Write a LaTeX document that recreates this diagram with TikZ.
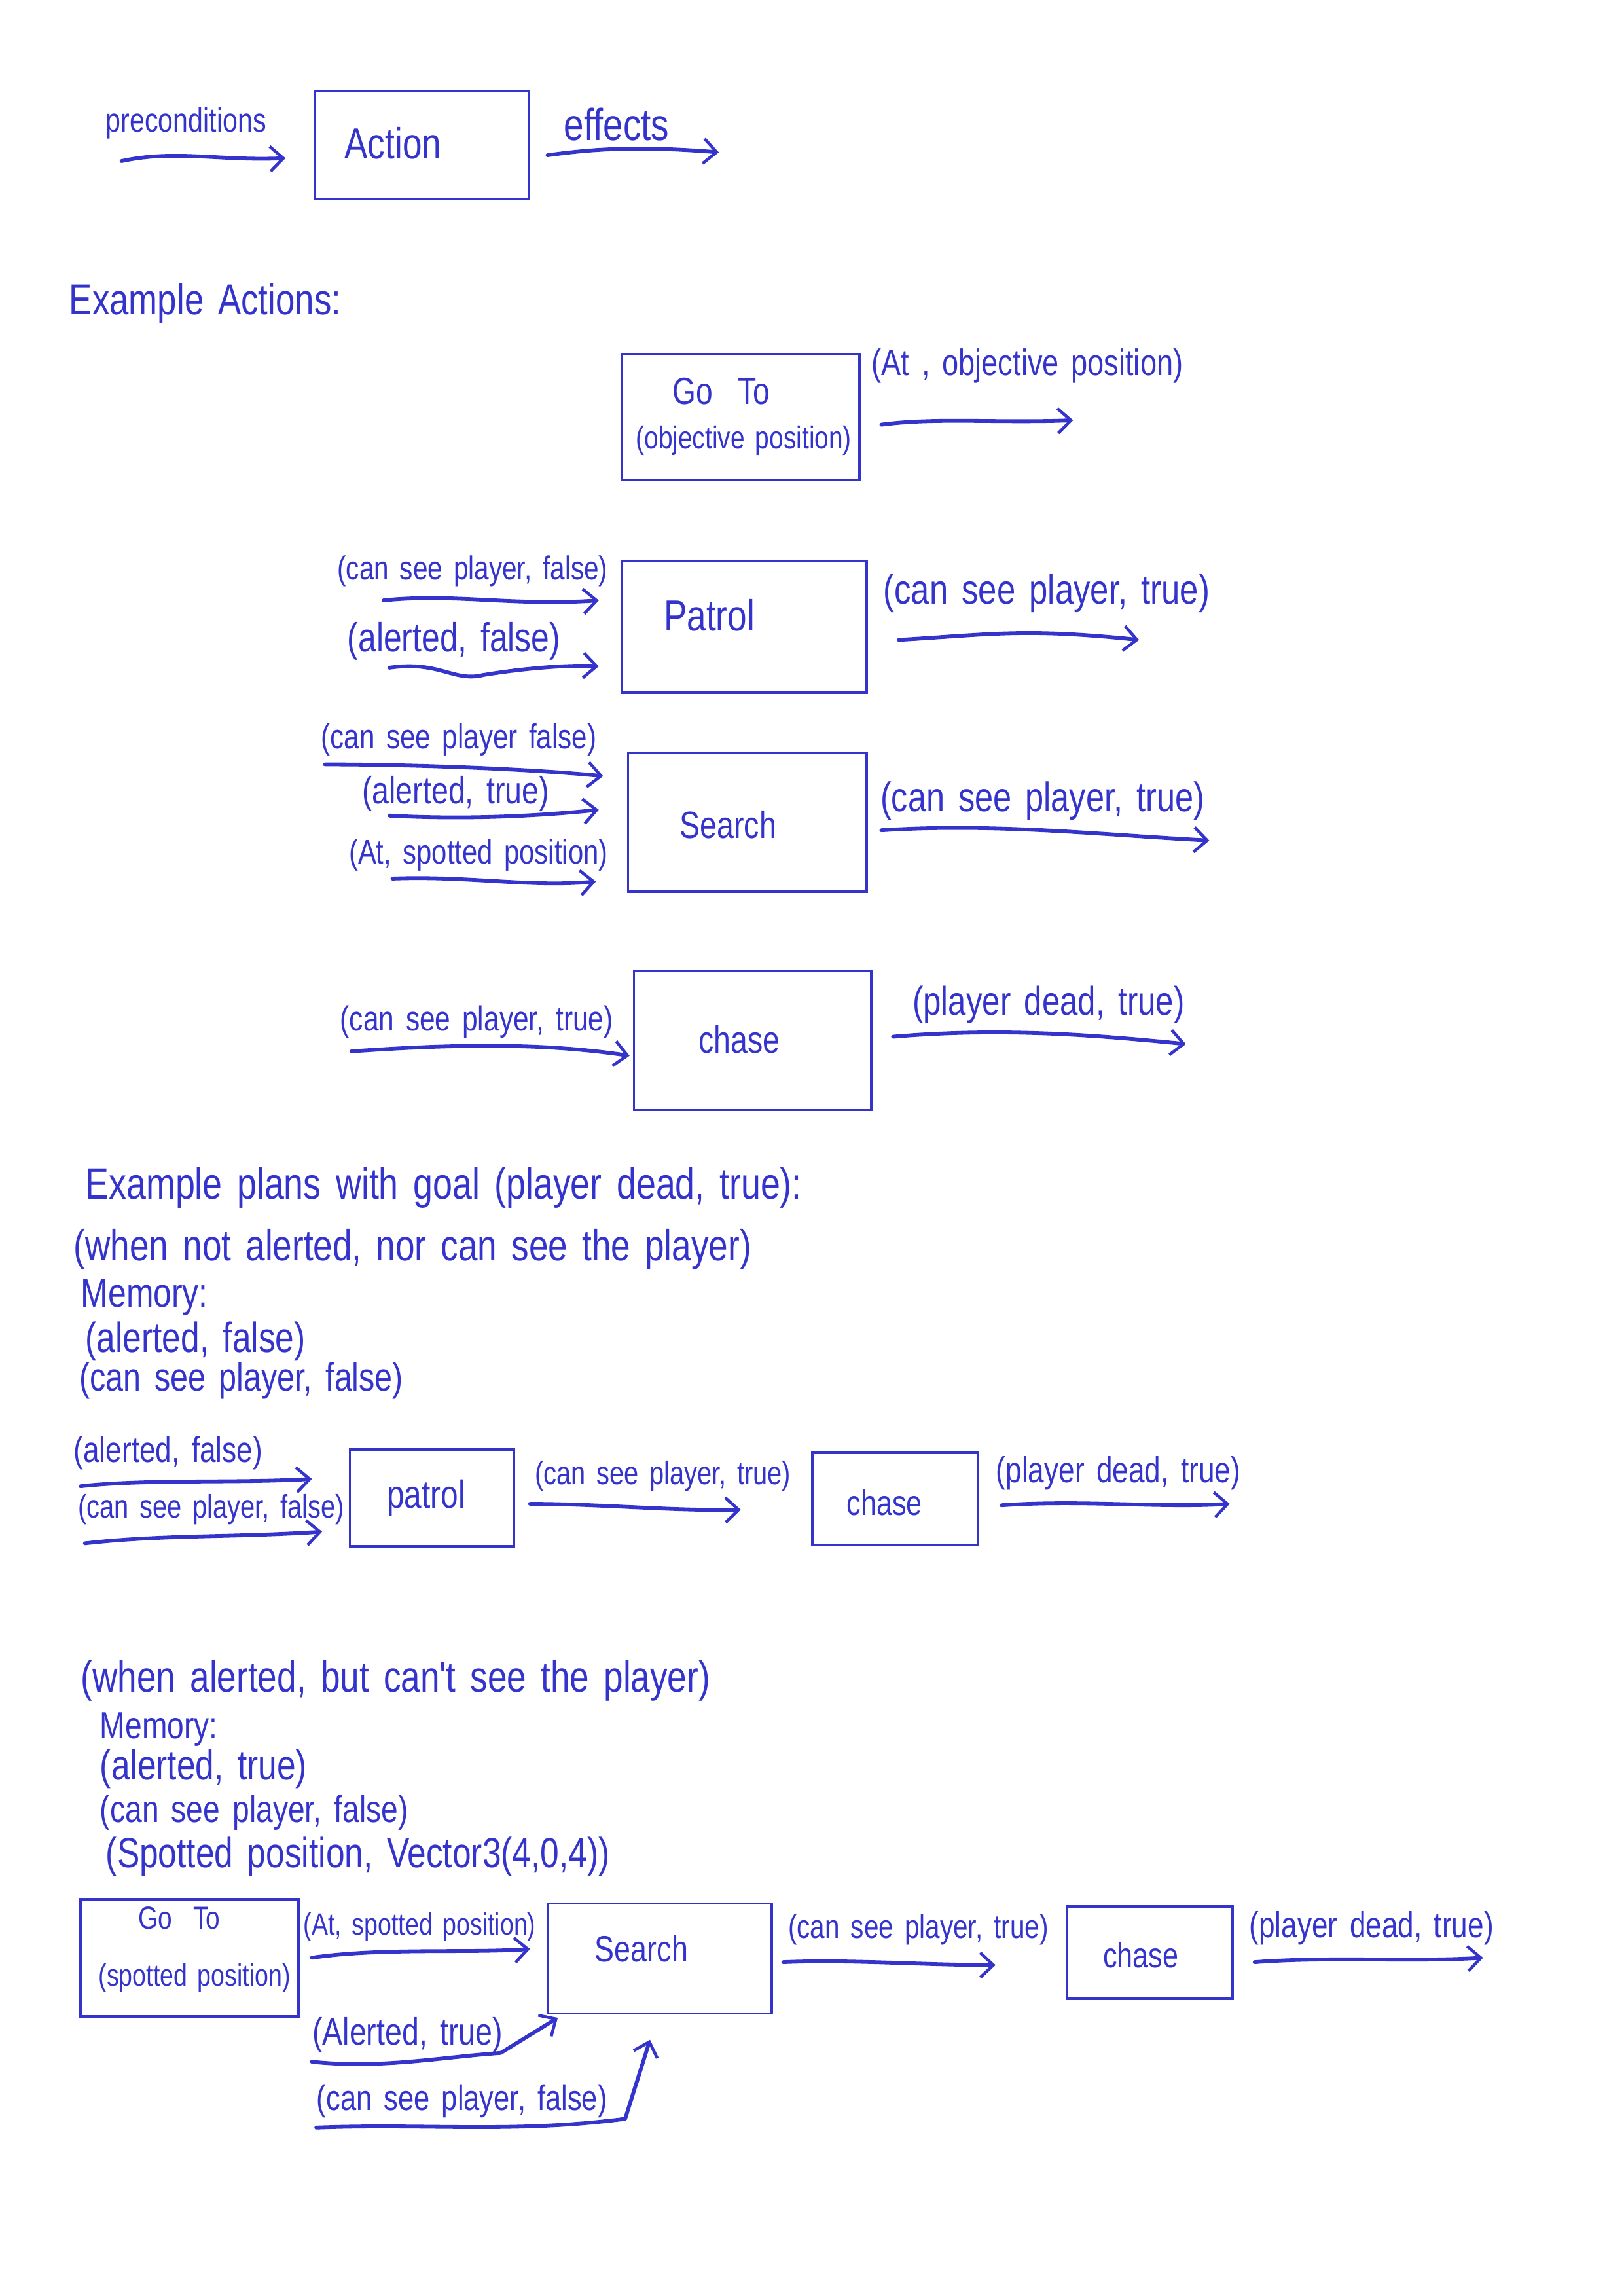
\documentclass[tikz,border=0pt]{standalone}
\usepackage{fontspec}
\newfontfamily\hand[FakeStretch=0.8,WordSpace=1.5]{Liberation Sans}
\usetikzlibrary{arrows.meta,fit}
\definecolor{ink}{RGB}{52,52,204}
\newcommand\fsz[1]{\fontsize{#1}{#1}\selectfont}
\begin{document}
\begin{tikzpicture}[x=0.18936mm,y=-0.18936mm,
 box/.style={draw=ink, line width=0.9pt, inner sep=0pt},
 lbl/.style={text=ink, inner sep=0pt, anchor=west, font=\hand},
 flow/.style={draw=ink, line width=1.4pt, line cap=round, line join=round,
   -{Straight Barb[length=1.7mm,width=3.2mm,line width=1.1pt]}},
]
\useasboundingbox[fill=white] (0,0) rectangle (1109,1568);

% ---------- legend ----------
\node[lbl] (pre) at (72,84) {\fsz{12.4}preconditions};
\coordinate (preA) at (83,110); \coordinate (preB) at (195,108);
\draw[flow] (preA) .. controls (120,102) and (150,110) .. (preB);
\node[box, fit={(215,62) (361,136)}] (action) {};
\node[lbl] (actiont) at (235,98) {\fsz{16}Action};
\node[lbl] (eff) at (385,85) {\fsz{16.5}effects};
\coordinate (effA) at (374,106); \coordinate (effB) at (491,104);
\draw[flow] (effA) .. controls (410,101) and (440,100) .. (effB);

\node[lbl] (exa) at (47,207) {\fsz{15.9}Example Actions:};

% ---------- Go To ----------
\node[box, fit={(425,242) (587,328)}] (goto) {};
\node[lbl] (gotot) at (459,267) {\fsz{13.9}Go\ \ To};
\node[lbl] (gotop) at (434,301) {\fsz{11.7}(objective position)};
\node[lbl] (gotoe) at (595,250) {\fsz{13.6}(At , objective position)};
\coordinate (gotoA) at (602,290); \coordinate (gotoB) at (733,287);
\draw[flow] (gotoA) .. controls (640,285) and (680,289) .. (gotoB);

% ---------- Patrol ----------
\node[box, fit={(425,383) (592,473)}] (patrol) {};
\node[lbl] (patrolt) at (453,420) {\fsz{16}Patrol};
\node[lbl] (patp1) at (230,390) {\fsz{12.2}(can see player, false)};
\coordinate (patp1A) at (262,410); \coordinate (patp1B) at (409,410);
\draw[flow] (patp1A) .. controls (310,405) and (350,414) .. (patp1B);
\node[lbl] (patp2) at (237,438) {\fsz{15}(alerted, false)};
\coordinate (patp2A) at (266,456); \coordinate (patp2B) at (409,455);
\draw[flow] (patp2A) .. controls (300,451) and (310,466) .. (330,461) .. controls (360,456) and (390,454) .. (patp2B);
\node[lbl] (pate) at (603,405) {\fsz{15.3}(can see player, true)};
\coordinate (pateA) at (614,437); \coordinate (pateB) at (778,437);
\draw[flow] (pateA) .. controls (680,433) and (700,429) .. (pateB);

% ---------- Search ----------
\node[box, fit={(429,514) (592,609)}] (search) {};
\node[lbl] (searcht) at (464,563) {\fsz{14}Search};
\node[lbl] (sp1) at (219,505) {\fsz{12.7}(can see player false)};
\coordinate (sp1A) at (222,522); \coordinate (sp1B) at (412,530);
\draw[flow] (sp1A) .. controls (280,522) and (360,525) .. (sp1B);
\node[lbl] (sp2) at (247,542) {\fsz{14}(alerted, true)};
\coordinate (sp2A) at (266,557); \coordinate (sp2B) at (409,553);
\draw[flow] (sp2A) .. controls (320,560) and (370,557) .. (sp2B);
\node[lbl] (sp3) at (238,584) {\fsz{12.6}(At, spotted position)};
\coordinate (sp3A) at (268,600); \coordinate (sp3B) at (407,602);
\draw[flow] (sp3A) .. controls (320,598) and (360,606) .. (sp3B);
\node[lbl] (se) at (601,547) {\fsz{15.2}(can see player, true)};
\coordinate (seA) at (602,567); \coordinate (seB) at (826,574);
\draw[flow] (seA) .. controls (680,562) and (750,570) .. (seB);

% ---------- Chase ----------
\node[box, fit={(433,663) (595,758)}] (chase) {};
\node[lbl] (chaset) at (477,710) {\fsz{14}chase};
\node[lbl] (cp) at (232,698) {\fsz{12.8}(can see player, true)};
\coordinate (cpA) at (240,718); \coordinate (cpB) at (430,721);
\draw[flow] (cpA) .. controls (310,713) and (370,712) .. (cpB);
\node[lbl] (ce) at (623,686) {\fsz{14.8}(player dead, true)};
\coordinate (ceA) at (610,708); \coordinate (ceB) at (810,713);
\draw[flow] (ceA) .. controls (680,702) and (740,706) .. (ceB);

% ---------- Example plans ----------
\node[lbl] (plans) at (58,811) {\fsz{16.2}Example plans with goal (player dead, true):};
\node[lbl] (when1) at (50,853) {\fsz{16}(when not alerted, nor can see the player)};
\node[lbl] (mem1) at (55,886) {\fsz{15}Memory:};
\node[lbl] (mem1a) at (58,916) {\fsz{15.5}(alerted, false)};
\node[lbl] (mem1b) at (54,943) {\fsz{14.6}(can see player, false)};

% plan 1
\node[lbl] (p1a) at (50,992) {\fsz{13.3}(alerted, false)};
\coordinate (p1aA) at (55,1015); \coordinate (p1aB) at (213,1010);
\draw[flow] (p1aA) .. controls (100,1010) and (160,1013) .. (p1aB);
\node[lbl] (p1b) at (53,1031) {\fsz{12}(can see player, false)};
\coordinate (p1bA) at (58,1054); \coordinate (p1bB) at (220,1046);
\draw[flow] (p1bA) .. controls (110,1048) and (160,1050) .. (p1bB);
\node[box, fit={(239,990) (351,1056)}] (patrol1) {};
\node[lbl] (patrol1t) at (264,1023) {\fsz{14.4}patrol};
\node[lbl] (p1c) at (365,1008) {\fsz{12}(can see player, true)};
\coordinate (p1cA) at (362,1027); \coordinate (p1cB) at (506,1031);
\draw[flow] (p1cA) .. controls (410,1027) and (460,1032) .. (p1cB);
\node[box, fit={(555,992) (668,1055)}] (chase1) {};
\node[lbl] (chase1t) at (578,1026) {\fsz{13}chase};
\node[lbl] (p1d) at (680,1006) {\fsz{13.3}(player dead, true)};
\coordinate (p1dA) at (684,1028); \coordinate (p1dB) at (840,1027);
\draw[flow] (p1dA) .. controls (740,1024) and (790,1030) .. (p1dB);

% plan 2 text
\node[lbl] (when2) at (55,1148) {\fsz{16}(when alerted, but can't see the player)};
\node[lbl] (mem2) at (68,1181) {\fsz{13.9}Memory:};
\node[lbl] (mem2a) at (68,1208) {\fsz{15.5}(alerted, true)};
\node[lbl] (mem2b) at (68,1238) {\fsz{13.9}(can see player, false)};
\node[lbl] (mem2c) at (72,1268) {\fsz{15.5}(Spotted position, Vector3(4,0,4))};

% plan 2
\node[box, fit={(55,1297) (204,1377)}] (goto2) {};
\node[lbl] (goto2t) at (94,1310) {\fsz{11.7}Go\ \ To};
\node[lbl] (goto2p) at (67,1351) {\fsz{11.3}(spotted position)};
\node[lbl] (p2a) at (207,1316) {\fsz{11.3}(At, spotted position)};
\coordinate (p2aA) at (213,1337); \coordinate (p2aB) at (362,1331);
\draw[flow] (p2aA) .. controls (260,1330) and (320,1334) .. (p2aB);
\node[box, fit={(374,1300) (527,1375)}] (search2) {};
\node[lbl] (search2t) at (406,1331) {\fsz{13.5}Search};
\node[lbl] (p2b) at (538,1318) {\fsz{12.2}(can see player, true)};
\coordinate (p2bA) at (535,1340); \coordinate (p2bB) at (680,1342);
\draw[flow] (p2bA) .. controls (580,1338) and (630,1342) .. (p2bB);
\node[box, fit={(729,1302) (842,1365)}] (chase2) {};
\node[lbl] (chase2t) at (753,1335) {\fsz{13}chase};
\node[lbl] (p2c) at (853,1317) {\fsz{13.3}(player dead, true)};
\coordinate (p2cA) at (857,1340); \coordinate (p2cB) at (1013,1337);
\draw[flow] (p2cA) .. controls (910,1336) and (960,1340) .. (p2cB);

\node[lbl] (p2d) at (213,1390) {\fsz{14}(Alerted, true)};
\coordinate (p2dA) at (213,1408); \coordinate (p2dK) at (342,1402); \coordinate (p2dB) at (381,1378);
\draw[flow] (p2dA) .. controls (260,1413) and (300,1405) .. (p2dK) -- (p2dB);
\node[lbl] (p2e) at (216,1435) {\fsz{13.1}(can see player, false)};
\coordinate (p2eA) at (216,1453); \coordinate (p2eK) at (427,1447); \coordinate (p2eB) at (444,1393);
\draw[flow] (p2eA) .. controls (290,1450) and (350,1457) .. (p2eK) -- (p2eB);
\end{tikzpicture}
\end{document}
